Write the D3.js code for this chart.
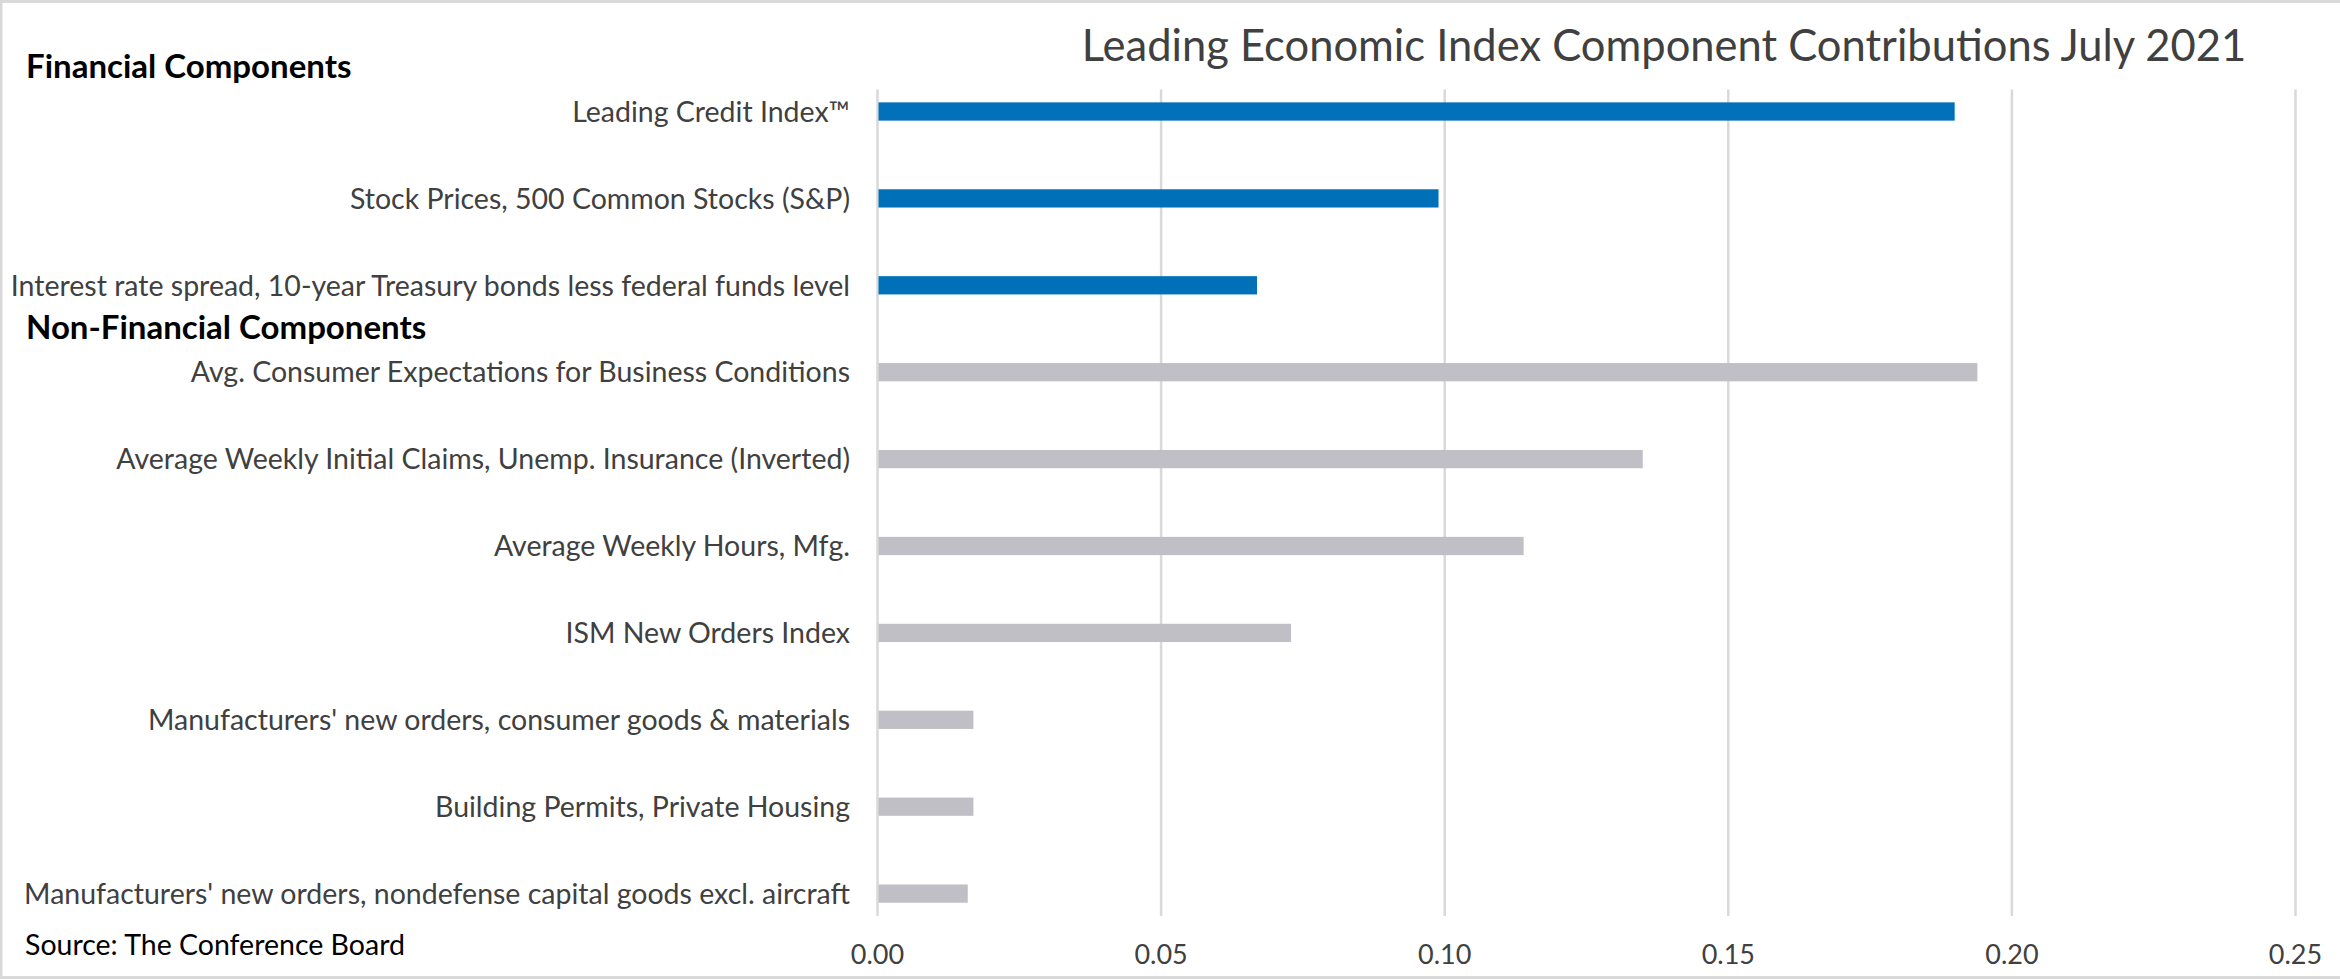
<!DOCTYPE html>
<html>
<head>
<meta charset="utf-8">
<script src="https://cdn.jsdelivr.net/npm/d3@7"></script>
<style>
  html, body { margin: 0; padding: 0; background: #ffffff; }
  svg { display: block; }
  text { font-family: Lato, "Open Sans", "DejaVu Sans", sans-serif; }
</style>
</head>
<body>
<svg id="chart" width="2340" height="980"></svg>
<script>
// Component contributions to the Leading Economic Index, July 2021
const financialLabels = [
  "Leading Credit Index\u2122",
  "Stock Prices, 500 Common Stocks (S&P)",
  "Interest rate spread, 10-year Treasury bonds less federal funds level"
];
const financialValues = [0.190, 0.099, 0.067];

const nonFinancialLabels = [
  "Avg. Consumer Expectations for Business Conditions",
  "Average Weekly Initial Claims, Unemp. Insurance (Inverted)",
  "Average Weekly Hours, Mfg.",
  "ISM New Orders Index",
  "Manufacturers' new orders, consumer goods & materials",
  "Building Permits, Private Housing",
  "Manufacturers' new orders, nondefense capital goods excl. aircraft"
];
const nonFinancialValues = [0.194, 0.135, 0.114, 0.073, 0.017, 0.017, 0.016];

const xTickValues = [0, 0.05, 0.10, 0.15, 0.20, 0.25];

const titleText = "Leading Economic Index Component Contributions July 2021";
const groupHeadings = ["Financial Components", "Non-Financial Components"];
const sourceText = "Source: The Conference Board";

// ---- layout ----
const W = 2340, H = 980;
const plot = { left: 877, right: 2295, top: 89.5, bottom: 916 };
const bandTop = 68.05, bandBottom = 937.05;
const labelRight = 850, labelMinLeft = 8;
const labelFont = 28.5, tickFont = 27, titleFont = 43.5, headFont = 33, sourceFont = 28.5;
const colFinancial = "#0070b8", colNonFinancial = "#bfbfc5";
const textGray = "#404040", gridGray = "#d9d9d9";

const rows = financialLabels.map((label, i) => ({ label, value: financialValues[i], group: 0 }))
  .concat(nonFinancialLabels.map((label, i) => ({ label, value: nonFinancialValues[i], group: 1 })));

const svg = d3.select("#chart");

svg.append("rect")
  .attr("x", 0).attr("y", 0).attr("width", W).attr("height", H)
  .attr("fill", "#ffffff");

// outer chart border
svg.append("rect")
  .attr("x", 1).attr("y", 1.5).attr("width", W + 10).attr("height", H - 4)
  .attr("fill", "none").attr("stroke", gridGray).attr("stroke-width", 3);

const x = d3.scaleLinear().domain([0, 0.25]).range([plot.left, plot.right]);
const y = d3.scaleBand()
  .domain(rows.map(d => d.label))
  .range([bandTop, bandBottom])
  .paddingInner(0.79)
  .paddingOuter(0.395);

// vertical gridlines
const grid = svg.append("g")
  .attr("transform", `translate(0,${plot.bottom})`)
  .call(d3.axisBottom(x).tickValues(xTickValues).tickSize(-(plot.bottom - plot.top)).tickFormat(""));
grid.select(".domain").remove();
grid.selectAll(".tick line").attr("stroke", gridGray).attr("stroke-width", 2.5);

// bars
svg.append("g").selectAll("rect")
  .data(rows)
  .join("rect")
  .attr("x", x(0) + 1.5)
  .attr("y", d => y(d.label))
  .attr("width", d => x(d.value) - x(0) - 1.5)
  .attr("height", y.bandwidth())
  .attr("fill", d => d.group === 0 ? colFinancial : colNonFinancial);

// category labels, squeezed horizontally if a long one would run past the left edge
svg.append("g").selectAll("text")
  .data(rows)
  .join("text")
  .attr("x", labelRight)
  .attr("y", d => y(d.label) + y.bandwidth() / 2 + labelFont * 0.36)
  .attr("text-anchor", "end")
  .attr("font-size", labelFont)
  .attr("fill", textGray)
  .text(d => d.label)
  .each(function () {
    const maxW = labelRight - labelMinLeft;
    if (this.getComputedTextLength() > maxW) {
      d3.select(this).attr("textLength", maxW).attr("lengthAdjust", "spacingAndGlyphs");
    }
  });

// x axis tick labels
const xAxis = svg.append("g")
  .attr("transform", `translate(0,${plot.bottom})`)
  .call(d3.axisBottom(x).tickValues(xTickValues).tickSize(0).tickPadding(48).tickFormat(d3.format(".2f")));
xAxis.select(".domain").remove();
xAxis.selectAll(".tick text")
  .attr("font-size", tickFont)
  .attr("font-family", "Lato, 'Open Sans', sans-serif")
  .attr("fill", textGray)
  .attr("dy", 0);

// title
svg.append("text")
  .attr("x", 1664).attr("y", 61)
  .attr("text-anchor", "middle")
  .attr("font-size", titleFont)
  .attr("fill", textGray)
  .text(titleText);

// group headings
svg.append("g").selectAll("text")
  .data(groupHeadings)
  .join("text")
  .attr("x", 26)
  .attr("y", (d, i) => i === 0 ? 78 : 339)
  .attr("font-size", headFont)
  .attr("font-weight", "bold")
  .attr("fill", "#000000")
  .text(d => d);

// source note
svg.append("text")
  .attr("x", 25).attr("y", 955)
  .attr("font-size", sourceFont)
  .attr("fill", "#000000")
  .text(sourceText);
</script>
</body>
</html>
